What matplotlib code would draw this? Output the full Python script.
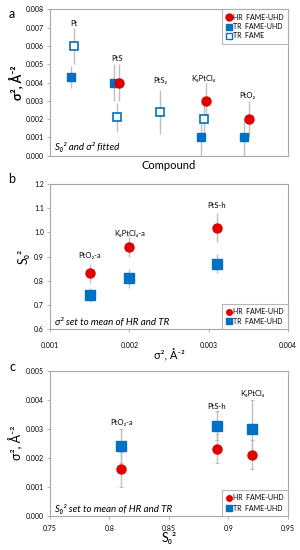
import matplotlib
matplotlib.use("Agg")
import matplotlib.pyplot as plt
from matplotlib.lines import Line2D
import numpy as np

plt.rcParams['font.family'] = ['Lato', 'DejaVu Sans']

RED = '#E00000'
BLUE = '#0070C0'
GRAY = '#BFBFBF'

# ---------------- Panel a data ----------------
compounds_a = ['Pt', 'PtS', 'PtS₂', 'K₂PtCl₄', 'PtO₂']
label_y_a = [0.0072, 0.0053, 0.0041, 0.0042, 0.0033]
# HR FAME-UHD (None = missing)
hr_a = [None, 0.0040, None, 0.0030, 0.0020]
hr_a_err = [None, 0.0010, None, 0.0010, 0.0010]
# TR FAME-UHD
tru_a = [0.0043, 0.0040, None, 0.0010, 0.0010]
tru_a_err = [0.0006, 0.0010, None, 0.0010, 0.0010]
# TR FAME
trf_a = [0.0060, 0.0021, 0.0024, 0.0020, None]
trf_a_err = [0.0010, 0.0008, 0.0012, 0.0008, None]

# ---------------- Panel b data ----------------
labels_b = ['PtO₂-a', 'K₂PtCl₄-a', 'PtS-h']
sigma_b = [0.0015, 0.0020, 0.0031]
hr_b = [0.83, 0.94, 1.02]
hr_b_err = [0.04, 0.04, 0.06]
tr_b = [0.74, 0.81, 0.87]
tr_b_err = [0.03, 0.04, 0.04]
label_y_b = [0.905, 0.995, 1.11]

# ---------------- Panel c data ----------------
labels_c = ['PtO₂-a', 'PtS-h', 'K₂PtCl₄']
s02_c = [0.81, 0.89, 0.92]
hr_c = [0.0016, 0.0023, 0.0021]
hr_c_err = [0.0006, 0.0005, 0.0005]
tr_c = [0.0024, 0.0031, 0.0030]
tr_c_err = [0.0006, 0.0005, 0.0010]
label_y_c = [0.0032, 0.00377, 0.00423]

fig = plt.figure(figsize=(3.0, 5.5), dpi=100)

def style_axes(ax):
    for s in ax.spines.values():
        s.set_color('#A6A6A6')
        s.set_linewidth(0.8)
    ax.tick_params(labelsize=5, length=2.5, width=0.6, color='#A6A6A6', pad=2)

# ---------------- Panel a ----------------
axa = fig.add_axes([0.1667, 0.717, 0.793, 0.266])
style_axes(axa)
xa = np.arange(1, len(compounds_a) + 1)
off_hr, off_tru, off_trf = 0.05, -0.07, 0.0
ms_c, ms_s = 6.5, 6.0
for i, x in enumerate(xa):
    if trf_a[i] is not None:
        axa.errorbar(x + off_trf, trf_a[i], yerr=trf_a_err[i], fmt='none', ecolor=GRAY, elinewidth=1, zorder=1)
    if tru_a[i] is not None:
        axa.errorbar(x + off_tru, tru_a[i], yerr=tru_a_err[i], fmt='none', ecolor=GRAY, elinewidth=1, zorder=1)
    if hr_a[i] is not None:
        axa.errorbar(x + off_hr, hr_a[i], yerr=hr_a_err[i], fmt='none', ecolor=GRAY, elinewidth=1, zorder=1)
for i, x in enumerate(xa):
    if trf_a[i] is not None:
        axa.plot(x + off_trf, trf_a[i], 's', ms=ms_s, mfc='white', mec=BLUE, mew=1.2, zorder=3)
    if tru_a[i] is not None:
        axa.plot(x + off_tru, tru_a[i], 's', ms=ms_s, color=BLUE, zorder=2)
    if hr_a[i] is not None:
        axa.plot(x + off_hr, hr_a[i], 'o', ms=ms_c, color=RED, zorder=2.5)
    axa.text(x, label_y_a[i], compounds_a[i], ha='center', va='center', fontsize=5.5)
axa.set_xlim(0.45, 5.95)
axa.set_ylim(0, 0.008)
axa.set_yticks(np.arange(0, 0.0081, 0.001))
axa.set_yticklabels([f'{v:.3f}' for v in np.arange(0, 0.0081, 0.001)])
axa.set_xticks([])
axa.set_xlabel('Compound', fontsize=8, labelpad=3)
axa.set_ylabel('σ², Å⁻²', fontsize=9, fontweight='bold', labelpad=2)
axa.text(0.02, 0.025, 'S₀² and σ² fitted', transform=axa.transAxes, fontsize=7, style='italic', ha='left', va='bottom')
handles_a = [
    Line2D([], [], marker='o', ls='none', color=RED, ms=5),
    Line2D([], [], marker='s', ls='none', color=BLUE, ms=4.5),
    Line2D([], [], marker='s', ls='none', mfc='white', mec=BLUE, mew=1, ms=4.5),
]
leg = axa.legend(handles_a, ['HR  FAME-UHD', 'TR  FAME-UHD', 'TR  FAME'], loc='upper right',
                 fontsize=5, frameon=True, fancybox=False, handlelength=0.8, handletextpad=0.2,
                 borderpad=0.6, labelspacing=0.35, borderaxespad=0)
leg.get_frame().set_edgecolor('#A6A6A6')
leg.get_frame().set_linewidth(0.8)
fig.text(0.04, 0.985, 'a', fontsize=9, ha='center', va='top')

# ---------------- Panel b ----------------
axb = fig.add_axes([0.1667, 0.4018, 0.793, 0.2636])
style_axes(axb)
axb.errorbar(sigma_b, hr_b, yerr=hr_b_err, fmt='none', ecolor=GRAY, elinewidth=1, zorder=1)
axb.errorbar(sigma_b, tr_b, yerr=tr_b_err, fmt='none', ecolor=GRAY, elinewidth=1, zorder=1)
axb.plot(sigma_b, hr_b, 'o', ms=ms_c, color=RED, ls='none', zorder=2)
axb.plot(sigma_b, tr_b, 's', ms=ms_s + 0.8, color=BLUE, ls='none', zorder=2)
for x, y, t in zip(sigma_b, label_y_b, labels_b):
    axb.text(x, y, t, ha='center', va='center', fontsize=5.5)
axb.set_xlim(0.001, 0.004)
axb.set_ylim(0.6, 1.2)
axb.set_xticks([0.001, 0.002, 0.003, 0.004])
axb.set_xticklabels(['0.001', '0.002', '0.003', '0.004'])
axb.set_yticks(np.arange(0.6, 1.201, 0.1))
axb.set_yticklabels([f'{v:.1f}' for v in np.arange(0.6, 1.201, 0.1)])
axb.tick_params(axis='x', pad=7)
axb.set_xlabel('σ², Å⁻²', fontsize=8, labelpad=0)
axb.set_ylabel('S₀²', fontsize=9, labelpad=3)
axb.text(0.02, 0.012, 'σ² set to mean of HR and TR', transform=axb.transAxes, fontsize=7, style='italic', ha='left', va='bottom')
handles_b = [
    Line2D([], [], marker='o', ls='none', color=RED, ms=4),
    Line2D([], [], marker='s', ls='none', color=BLUE, ms=5),
]
legb = axb.legend(handles_b, ['HR  FAME-UHD', 'TR  FAME-UHD'], loc='lower right',
                  fontsize=5, frameon=True, fancybox=False, handlelength=0.8, handletextpad=0.2,
                  borderpad=0.6, labelspacing=0.4, borderaxespad=0)
legb.get_frame().set_edgecolor('#A6A6A6')
legb.get_frame().set_linewidth(0.8)
fig.text(0.04, 0.675, 'b', fontsize=9, ha='center', va='center')

# ---------------- Panel c ----------------
axc = fig.add_axes([0.1667, 0.0624, 0.793, 0.2636])
style_axes(axc)
axc.errorbar(s02_c, tr_c, yerr=tr_c_err, fmt='none', ecolor=GRAY, elinewidth=1, capsize=1.5, capthick=0.8, zorder=1)
axc.errorbar(s02_c, hr_c, yerr=hr_c_err, fmt='none', ecolor=GRAY, elinewidth=1, capsize=1.5, capthick=0.8, zorder=1)
axc.plot(s02_c, hr_c, 'o', ms=ms_c, color=RED, ls='none', zorder=2)
axc.plot(s02_c, tr_c, 's', ms=ms_s + 0.8, color=BLUE, ls='none', zorder=2)
for x, y, t in zip(s02_c, label_y_c, labels_c):
    axc.text(x, y, t, ha='center', va='center', fontsize=5.5)
axc.set_xlim(0.75, 0.95)
axc.set_ylim(0, 0.005)
axc.set_xticks([0.75, 0.8, 0.85, 0.9, 0.95])
axc.set_xticklabels(['0.75', '0.8', '0.85', '0.9', '0.95'])
axc.set_yticks(np.arange(0, 0.0051, 0.001))
axc.set_yticklabels([f'{v:.3f}' for v in np.arange(0, 0.0051, 0.001)])
axc.tick_params(axis='x', pad=4)
axc.set_xlabel('S₀²', fontsize=9, labelpad=0)
axc.set_ylabel('σ², Å⁻²', fontsize=9, labelpad=2)
axc.text(0.02, 0.012, 'S₀² set to mean of HR and TR', transform=axc.transAxes, fontsize=7, style='italic', ha='left', va='bottom')
handles_c = [
    Line2D([], [], marker='o', ls='none', color=RED, ms=4),
    Line2D([], [], marker='s', ls='none', color=BLUE, ms=5),
]
legc = axc.legend(handles_c, ['HR  FAME-UHD', 'TR  FAME-UHD'], loc='lower right',
                  fontsize=5, frameon=True, fancybox=False, handlelength=0.8, handletextpad=0.2,
                  borderpad=0.6, labelspacing=0.5, borderaxespad=0)
legc.get_frame().set_edgecolor('#A6A6A6')
legc.get_frame().set_linewidth(0.8)
fig.text(0.04, 0.333, 'c', fontsize=9, ha='center', va='center')

fig.savefig('out.png', dpi=100)
